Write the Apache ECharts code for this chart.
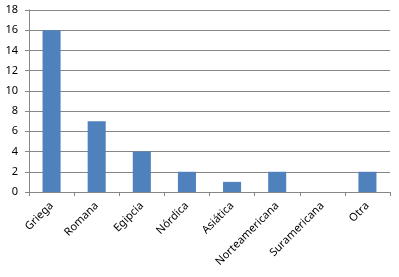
<!DOCTYPE html>
<html><head><meta charset="utf-8">
<script src="https://cdn.jsdelivr.net/npm/echarts@6/dist/echarts.min.js"></script>
<style>html,body{margin:0;padding:0;background:#fff}#c{width:399px;height:277px}</style>
</head><body><div id="c"></div>
<script>
const categories = ["Griega","Romana","Egipcia","Nórdica","Asiática","Norteamericana","Suramericana","Otra"];
const values = [16,7,4,2,1,2,0,2];
const yMin = 0, yMax = 18, yStep = 2;

const chart = echarts.init(document.getElementById('c'));
chart.setOption({
  animation:false,
  grid:{left:29,right:9,top:10,bottom:85,containLabel:false},
  xAxis:{type:'category',data:categories,
    axisLine:{lineStyle:{color:'#868686',width:1}},
    axisTick:{show:true,length:4,alignWithLabel:false,lineStyle:{color:'#868686'}},
    axisLabel:{rotate:45,interval:0,color:'#000',fontFamily:'Noto Sans',fontSize:11,margin:12}},
  yAxis:{type:'value',min:yMin,max:yMax,interval:yStep,
    axisLine:{show:true,lineStyle:{color:'#868686'}},
    axisTick:{show:true,length:4,lineStyle:{color:'#868686'}},
    splitLine:{lineStyle:{color:'#868686'}},
    axisLabel:{color:'#000',fontFamily:'Noto Sans',fontSize:11,margin:11}},
  series:[{type:'bar',data:values,barWidth:'40%',itemStyle:{color:'#4F81BD'}}]
});
</script></body></html>
